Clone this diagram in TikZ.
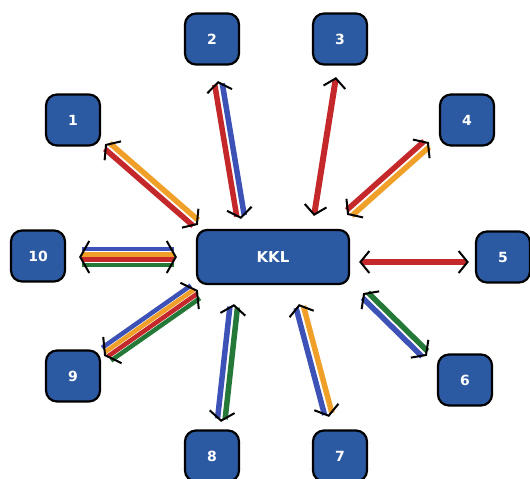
\documentclass[tikz,border=0pt]{standalone}
\usepackage{fontspec}
\setmainfont{DejaVu Sans}
\usetikzlibrary{calc,arrows.meta}
\definecolor{boxblue}{RGB}{44,90,162}
\definecolor{kred}{RGB}{196,40,42}
\definecolor{korange}{RGB}{240,160,40}
\definecolor{kblue}{RGB}{60,82,182}
\definecolor{kgreen}{RGB}{36,120,56}
% #1 from, #2 to, #3 stripe width, #4 head width, #5 offset/colour list
\newcommand\link[5]{%
  \foreach \o/\c in {#5}
    \draw[stripe=#3, draw=\c] ($(#1)!\o!90:(#2)$) -- ($(#2)!\o!-90:(#1)$);
  \path[tips, barbs=#4] (#1) -- (#2);
}
\begin{document}
\begin{tikzpicture}[x=1pt,y=1pt,
  box/.style={draw=black, line width=2.2pt, fill=boxblue, rounded corners=11pt,
    minimum width=54pt, minimum height=51pt, text=white, font=\bfseries\fontsize{14}{14}\selectfont},
  hub/.style={box, minimum width=152pt, minimum height=54pt, rounded corners=10pt,
    font=\bfseries\fontsize{15}{15}\selectfont},
  stripe/.style={line width=#1, line cap=butt, shorten >=3pt, shorten <=3pt},
  barbs/.style={arrows={Straight Barb[length=9pt,width=#1,line width=2pt]-Straight Barb[length=9pt,width=#1,line width=2pt]}}]
\useasboundingbox (0,0) rectangle (530,479);
\node[hub] (kkl) at (273,222) {KKL};
\node[box] (n1) at (73,359) {1};
\node[box] (n2) at (212,440) {2};
\node[box] (n3) at (340,440) {3};
\node[box] (n4) at (467,359) {4};
\node[box] (n5) at (503,222) {5};
\node[box] (n6) at (465,99) {6};
\node[box] (n7) at (340,23) {7};
\node[box] (n8) at (212,23) {8};
\node[box] (n9) at (73,103) {9};
\node[box] (n10) at (38,223) {10};
% arrow ends
\coordinate (a1) at ([shift={(4,2.5)}]n1.south east);
\coordinate (b1) at ([shift={(2,4)}]kkl.north west);
\coordinate (a2) at ([shift={(6,-15.5)}]n2.south);
\coordinate (b2) at ([shift={(-32,10)}]kkl.north);
\coordinate (a3) at ([shift={(-4,-11.5)}]n3.south);
\coordinate (b3) at ([shift={(41,13)}]kkl.north);
\coordinate (a4) at ([shift={(-10,4.5)}]n4.south west);
\coordinate (b4) at ([shift={(-3,14)}]kkl.north east);
\coordinate (a5) at ([shift={(9,-5)}]kkl.east);
\coordinate (b5) at ([shift={(-6,-5)}]n5.west);
\coordinate (a6) at ([shift={(13,-8)}]kkl.south east);
\coordinate (b6) at ([shift={(-10,-2.5)}]n6.north west);
\coordinate (a7) at ([shift={(26,-19)}]kkl.south);
\coordinate (b7) at ([shift={(-11,12.5)}]n7.north);
\coordinate (a8) at ([shift={(-39,-19)}]kkl.south);
\coordinate (b8) at ([shift={(9,7.5)}]n8.north);
\coordinate (a9) at ([shift={(3,-6.5)}]n9.north east);
\coordinate (b9) at ([shift={(2,-5)}]kkl.south west);
\coordinate (a10) at ([shift={(13,-1)}]n10.east);
\coordinate (b10) at ([shift={(-19,0)}]kkl.west);
% arrows
\link{a1}{b1}{5.5pt}{25pt}{3.8pt/korange, -3.8pt/kred}
\link{a2}{b2}{5.5pt}{25pt}{3.8pt/kblue, -3.8pt/kred}
\link{a3}{b3}{6pt}{22pt}{0pt/kred}
\link{a4}{b4}{5.5pt}{25pt}{3.8pt/korange, -3.8pt/kred}
\link{a5}{b5}{6pt}{22pt}{0pt/kred}
\link{a6}{b6}{5.5pt}{25pt}{3.8pt/kgreen, -3.8pt/kblue}
\link{a7}{b7}{5.5pt}{25pt}{3.8pt/korange, -3.8pt/kblue}
\link{a8}{b8}{5.5pt}{25pt}{3.8pt/kgreen, -3.8pt/kblue}
\link{a9}{b9}{4.5pt}{32pt}{7.8pt/kblue, 2.6pt/korange, -2.6pt/kred, -7.8pt/kgreen}
\link{a10}{b10}{4.5pt}{32pt}{7.8pt/kblue, 2.6pt/korange, -2.6pt/kred, -7.8pt/kgreen}
\end{tikzpicture}
\end{document}
